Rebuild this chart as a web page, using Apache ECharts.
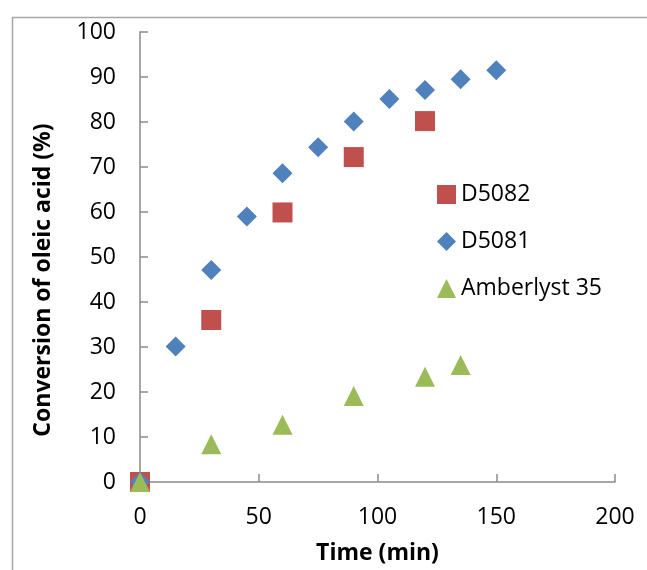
<!DOCTYPE html>
<html>
<head>
<meta charset="utf-8">
<script src="https://cdn.jsdelivr.net/npm/echarts@6/dist/echarts.min.js"></script>
<style>html,body{margin:0;padding:0;background:#fff;}#c{width:647px;height:570px;}</style>
</head>
<body>
<div id="c"></div>
<script>
var xTicks = {min: 0, max: 200, interval: 50};
var yTicks = {min: 0, max: 100, interval: 10};

var d5082X = [0, 30, 60, 90, 120];
var d5082Y = [0, 36.0, 59.9, 72.2, 80.2];

var d5081X = [0, 15, 30, 45, 60, 75, 90, 105, 120, 135, 150];
var d5081Y = [0, 30.1, 47.1, 59.0, 68.6, 74.4, 80.1, 85.1, 87.1, 89.5, 91.5];

var amberX = [0, 30, 60, 90, 120, 135];
var amberY = [0, 8.4, 12.7, 19.1, 23.4, 26.0];

var seriesNames = ['D5082', 'D5081', 'Amberlyst 35'];

function pairs(xs, ys) { return xs.map(function (x, i) { return [x, ys[i]]; }); }

var FONT = 'Open Sans';
var chart = echarts.init(document.getElementById('c'), null, {renderer: 'canvas'});
chart.setOption({
  animation: false,
  backgroundColor: '#ffffff',
  graphic: [{
    type: 'rect', left: 10, top: 15, z: -1,
    shape: {x: 0, y: 0, width: 700, height: 600},
    style: {fill: 'none', stroke: '#a6a6a6', lineWidth: 1.5}
  }],
  grid: {left: 140, right: 32, top: 32, bottom: 88, containLabel: false},
  legend: {
    orient: 'vertical', left: 432, top: 178,
    itemWidth: 19, itemHeight: 19, itemGap: 24,
    data: seriesNames,
    textStyle: {fontFamily: FONT, fontSize: 23, color: '#000', padding: [0, 0, 0, 0]}
  },
  xAxis: {
    type: 'value', min: xTicks.min, max: xTicks.max, interval: xTicks.interval,
    name: 'Time (min)', nameLocation: 'middle', nameGap: 60,
    nameTextStyle: {fontFamily: FONT, fontSize: 23, fontWeight: 'bold', color: '#000'},
    axisLine: {show: true, onZero: false, lineStyle: {color: '#8a8a8a', width: 1.5}},
    axisTick: {show: true, inside: true, length: 8, lineStyle: {color: '#8a8a8a', width: 1.5}},
    axisLabel: {fontFamily: FONT, fontSize: 23, color: '#000', margin: 24},
    splitLine: {show: false}
  },
  yAxis: {
    type: 'value', min: yTicks.min, max: yTicks.max, interval: yTicks.interval,
    name: 'Conversion of oleic acid (%)', nameLocation: 'middle', nameGap: 85,
    nameTextStyle: {fontFamily: FONT, fontSize: 23, fontWeight: 'bold', color: '#000', padding: [0, 46, 0, 0]},
    axisLine: {show: true, onZero: false, lineStyle: {color: '#8a8a8a', width: 1.5}},
    axisTick: {show: true, inside: true, length: 8, lineStyle: {color: '#8a8a8a', width: 1.5}},
    axisLabel: {fontFamily: FONT, fontSize: 23, color: '#000', margin: 24},
    splitLine: {show: false}
  },
  series: [
    {name: seriesNames[0], type: 'scatter', symbol: 'rect', symbolSize: 20,
     itemStyle: {color: '#C0504D', opacity: 1}, data: pairs(d5082X, d5082Y)},
    {name: seriesNames[1], type: 'scatter', symbol: 'diamond', symbolSize: 20,
     itemStyle: {color: '#4F81BD', opacity: 1}, data: pairs(d5081X, d5081Y)},
    {name: seriesNames[2], type: 'scatter', symbol: 'triangle', symbolSize: 20,
     itemStyle: {color: '#9BBB59', opacity: 1}, data: pairs(amberX, amberY)}
  ]
});
</script>
</body>
</html>
